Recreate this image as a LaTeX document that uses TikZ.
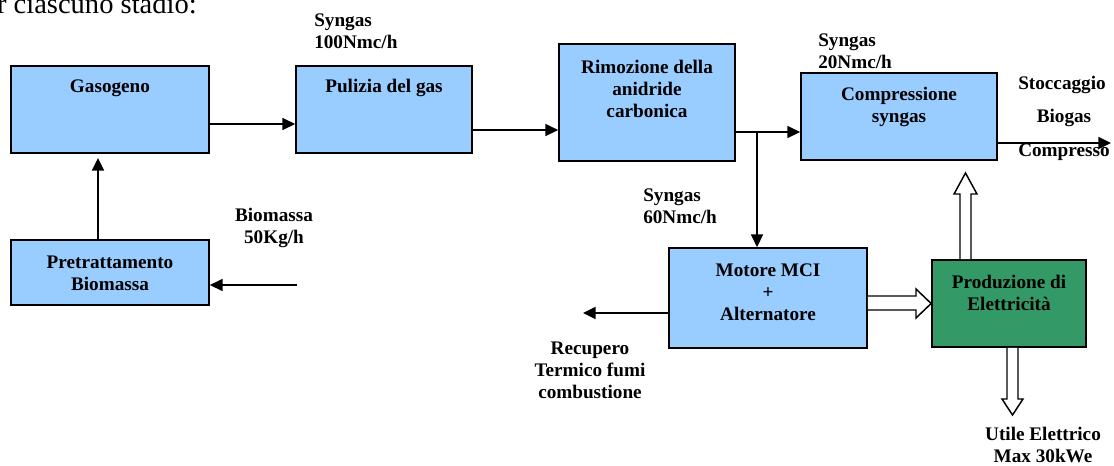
\documentclass[tikz,border=0pt]{standalone}
\usepackage{fontspec}
\setmainfont{Liberation Serif}
\usetikzlibrary{arrows.meta,calc}
\definecolor{boxblue}{HTML}{99CCFF}
\definecolor{boxgreen}{HTML}{339966}
\begin{document}
\begin{tikzpicture}[x=0.75pt,y=-0.75pt,
  box/.style={draw=black, line width=1.3pt, fill=boxblue, rectangle, inner sep=0pt},
  gbox/.style={box, fill=boxgreen},
  lbl/.style={font=\fontsize{14.4}{16.5}\selectfont\bfseries, align=center, inner sep=0pt},
  llbl/.style={lbl, align=left, anchor=west},
  arr/.style={line width=1.2pt, -{Triangle[length=9.5pt,width=9pt]}},
  hollow/.style={draw=black, line width=1.1pt, fill=white, line join=miter}
]
\useasboundingbox (0,0) rectangle (1114,465);

% stray text of the page
\node[anchor=base east, inner sep=0pt, font=\fontsize{21.4}{24}\selectfont] (pg) at (197,13) {r ciascuno stadio:};

% boxes
\node[box, minimum width=148.5pt, minimum height=65.25pt] (gas) at (110,109.5) {};
\node[box, minimum width=132pt, minimum height=65.25pt] (pul) at (384,109.5) {};
\node[box, minimum width=132pt, minimum height=87.75pt] (rim) at (647,102.5) {};
\node[box, minimum width=147pt, minimum height=65.25pt] (com) at (899,116.5) {};
\node[box, minimum width=148.5pt, minimum height=48.75pt] (pre) at (110,272.5) {};
\node[box, minimum width=148.5pt, minimum height=75pt] (mot) at (768,298) {};
\node[gbox, minimum width=115.5pt, minimum height=65.25pt] (pro) at (1009,303.5) {};

% box texts
\node[lbl] (tgas) at (110,88) {Gasogeno};
\node[lbl] (tpul) at (384,88) {Pulizia del gas};
\node[lbl] (trim) at (647,88.5) {Rimozione della\\anidride\\carbonica};
\node[lbl] (tcom) at (899,106.5) {Compressione\\syngas};
\node[lbl] (tpre) at (110,273.5) {Pretrattamento\\Biomassa};
\node[lbl] (tmot) at (768,292.5) {Motore MCI\\+\\Alternatore};
\node[lbl] (tpro) at (1009,292.5) {Produzione di\\Elettricit\`a};

% free labels
\node[llbl] (l1) at (314,31) {Syngas\\100Nmc/h};
\node[llbl] (l2) at (818,51.5) {Syngas\\20Nmc/h};
\node[llbl] (l3) at (643,206) {Syngas\\60Nmc/h};
\node[lbl] (l4) at (274,227.5) {Biomassa\\50Kg/h};
\node[lbl] (l5) at (590,370.5) {Recupero\\Termico fumi\\combustione};
\node[lbl] (l6) at (1043,445) {Utile Elettrico\\Max 30kWe};
\node[lbl] (s1) at (1062,85) {Stoccaggio};
\node[lbl] (s2) at (1064,118) {Biogas};
\node[lbl, anchor=west] (s3) at (1018,152) {Compresso};

% free ends / rows
\coordinate (row1) at (0,124);
\coordinate (row2) at (0,130);
\coordinate (bioin) at (297,285);
\coordinate (recout) at (583,313);
\coordinate (stoout) at (1111,143);
\coordinate (br) at (757,132);
\coordinate (pretop) at (98,158);

% simple arrows
\draw[arr] (row1 -| gas.east) -- (row1 -| pul.west);
\draw[arr] (row2 -| pul.east) -- (row2 -| rim.west);
\draw[arr] (br -| rim.east) -- (br -| com.west);
\draw[arr] (br) -- (br |- mot.north);
\draw[arr] (pretop |- pre.north) -- (pretop);
\draw[arr] (bioin) -- (bioin -| pre.east);
\draw[arr] (recout -| mot.west) -- (recout);
\draw[arr] (stoout -| com.east) -- (stoout);

% hollow arrows
\draw[hollow] (mot.east |- 0,296) -- (916,296) -- (916,289) -- (pro.west |- 0,303.5)
  -- (916,318) -- (916,310) -- (mot.east |- 0,310) ;
\draw[hollow] (960,0 |- pro.north) -- (960,194) -- (954,194) -- (965.5,173)
  -- (977,194) -- (971,194) -- (971,0 |- pro.north);
\draw[hollow] (1007,0 |- pro.south) -- (1007,399) -- (1002,399) -- (1012.5,415)
  -- (1023,399) -- (1018,399) -- (1018,0 |- pro.south);
\end{tikzpicture}
\end{document}
